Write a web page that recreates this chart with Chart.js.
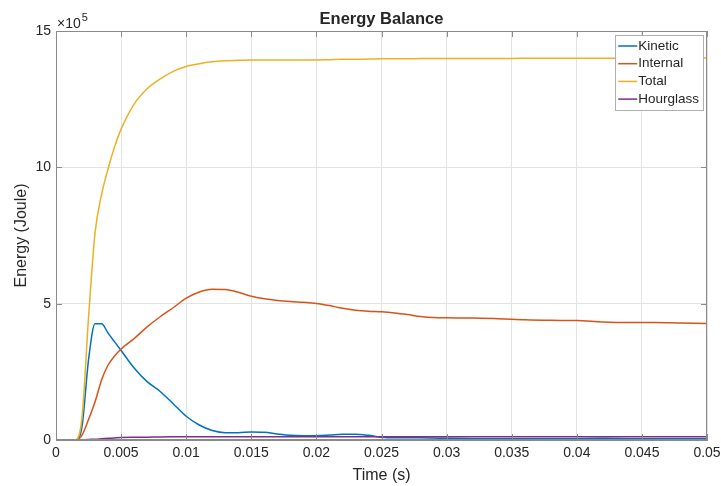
<!DOCTYPE html>
<html>
<head>
<meta charset="utf-8">
<script src="https://cdn.jsdelivr.net/npm/chart.js@4/dist/chart.umd.min.js"></script>
<style>
  html, body { margin: 0; padding: 0; background: #fff; }
  #wrap { width: 721px; height: 486px; }
</style>
</head>
<body>
<div id="wrap"><canvas id="energyChart" width="721" height="486"></canvas></div>
<script>
// Energy histories (Joule) sampled against simulation time (s)
const time = [0, 0.0005, 0.001, 0.0015, 0.002, 0.0025, 0.003, 0.0035, 0.004, 0.0045, 0.005,
  0.006, 0.007, 0.008, 0.009, 0.01, 0.011, 0.012, 0.013, 0.014, 0.015, 0.016, 0.017, 0.018, 0.019, 0.02,
  0.021, 0.022, 0.023, 0.024, 0.025, 0.026, 0.027, 0.028, 0.029, 0.03,
  0.032, 0.034, 0.036, 0.038, 0.04, 0.042, 0.044, 0.046, 0.048, 0.05];

const kinetic = [0, 0, 0, 0, 50000, 295000, 426000, 426000, 392000, 360000, 328000,
  264000, 214000, 178000, 133000, 87000, 55000, 35000, 27000, 27000, 29000, 28000, 22000, 17000, 16000, 16000,
  18000, 21000, 21000, 17000, 10000, 8000, 8000, 8000, 7000, 6000,
  5000, 5000, 5000, 5000, 5000, 6000, 5000, 5000, 5000, 5000];

const internal = [0, 0, 0, 0, 18000, 75000, 140000, 220000, 275000, 308000, 334000,
  372000, 415000, 452000, 485000, 520000, 543000, 553000, 552000, 542000, 527000, 518000, 512000, 508000, 505000, 501000,
  493000, 483000, 476000, 472000, 470000, 466000, 460000, 453000, 449000, 448000,
  447000, 445000, 441000, 439000, 438000, 433000, 431000, 431000, 429000, 427000];

const total = [0, 0, 0, 0, 85000, 450000, 760000, 900000, 995000, 1075000, 1140000,
  1232000, 1288000, 1324000, 1352000, 1370000, 1380000, 1387000, 1391000, 1393000, 1394000, 1394000, 1394000, 1394000, 1394000, 1394000,
  1395000, 1396000, 1396000, 1397000, 1398000, 1398000, 1398000, 1399000, 1399000, 1399000,
  1399000, 1399000, 1400000, 1400000, 1400000, 1400000, 1401000, 1401000, 1401000, 1401000];

const hourglass = [0, 0, 0, 0, 1000, 2000, 3000, 4500, 6000, 7500, 9000,
  10000, 10500, 11000, 11500, 12000, 12000, 12000, 12000, 12000, 12000, 12000, 12000, 12000, 12000, 12000,
  12000, 12000, 12000, 12000, 12000, 12000, 12000, 12000, 12000, 12000,
  12000, 12000, 12000, 12000, 12000, 12000, 12000, 12000, 12000, 12000];

const seriesNames = ['Kinetic', 'Internal', 'Total', 'Hourglass'];
const seriesColors = ['#0072BD', '#D95319', '#EDB120', '#7E2F8E'];
const xTicks = [0, 0.005, 0.01, 0.015, 0.02, 0.025, 0.03, 0.035, 0.04, 0.045, 0.05];
const yTicks = [0, 5e5, 10e5, 15e5];

const FONT = 'Helvetica, Arial, "Liberation Sans", sans-serif';
const TEXT = '#262626';
const AXIS = '#8a8a8a';

const toPoints = ys => time.map((t, i) => ({ x: t, y: ys[i] }));

// Box outline, inward tick marks, exponent label, title and legend
const matlabAxes = {
  id: 'matlabAxes',
  afterDraw(chart) {
    const { ctx, chartArea: a, scales: { x, y } } = chart;
    ctx.save();

    ctx.strokeStyle = AXIS;
    ctx.lineWidth = 1;
    ctx.strokeRect(a.left + 0.5, a.top + 0.5, a.right - a.left - 1, a.bottom - a.top - 1);

    ctx.beginPath();
    xTicks.forEach(v => {
      const px = Math.round(x.getPixelForValue(v)) + 0.5;
      ctx.moveTo(px, a.bottom); ctx.lineTo(px, a.bottom - 6);
      ctx.moveTo(px, a.top); ctx.lineTo(px, a.top + 6);
    });
    yTicks.forEach(v => {
      const py = Math.round(y.getPixelForValue(v)) + 0.5;
      ctx.moveTo(a.left, py); ctx.lineTo(a.left + 6, py);
      ctx.moveTo(a.right, py); ctx.lineTo(a.right - 6, py);
    });
    ctx.stroke();

    // ×10^5 multiplier
    ctx.fillStyle = TEXT;
    ctx.textBaseline = 'alphabetic';
    ctx.textAlign = 'left';
    ctx.font = '14px ' + FONT;
    ctx.fillText('\u00d710', a.left + 1, a.top - 3);
    const w = ctx.measureText('\u00d710').width;
    ctx.font = '11px ' + FONT;
    ctx.fillText('5', a.left + 2 + w, a.top - 10);

    // title
    ctx.font = 'bold 16.5px ' + FONT;
    ctx.textAlign = 'center';
    ctx.fillText('Energy Balance', (a.left + a.right) / 2, 24);

    // legend box
    ctx.font = '13.5px ' + FONT;
    ctx.textAlign = 'left';
    ctx.textBaseline = 'middle';
    const textW = Math.max(...seriesNames.map(n => ctx.measureText(n).width));
    const rowH = 17.7;
    const boxW = 24 + textW + 3;
    const boxH = rowH * seriesNames.length + 4;
    const bx = a.right - 4 - boxW;
    const by = a.top + 4;
    ctx.fillStyle = '#fff';
    ctx.fillRect(bx, by, boxW, boxH);
    ctx.strokeStyle = '#b0b0b0';
    ctx.strokeRect(Math.round(bx) + 0.5, Math.round(by) + 0.5, Math.round(boxW), Math.round(boxH));
    chart.data.datasets.forEach((ds, i) => {
      const cy = by + 11 + i * rowH;
      ctx.strokeStyle = ds.borderColor;
      ctx.lineWidth = 1.5;
      ctx.beginPath();
      ctx.moveTo(bx + 3, cy); ctx.lineTo(bx + 22, cy);
      ctx.stroke();
      ctx.fillStyle = TEXT;
      ctx.fillText(ds.label, bx + 23, cy);
    });
    ctx.restore();
  }
};

new Chart(document.getElementById('energyChart'), {
  type: 'line',
  data: {
    datasets: seriesNames.map((name, i) => ({
      label: name,
      data: toPoints([kinetic, internal, total, hourglass][i]),
      borderColor: seriesColors[i],
      backgroundColor: seriesColors[i],
      borderWidth: 1.5,
      pointRadius: 0,
      cubicInterpolationMode: 'monotone',
      order: seriesNames.length - i
    }))
  },
  options: {
    responsive: false,
    animation: false,
    layout: { padding: { top: 31, right: 14, left: 0, bottom: 0 } },
    plugins: {
      legend: { display: false },
      title: { display: false },
      tooltip: { enabled: false }
    },
    scales: {
      x: {
        type: 'linear',
        min: 0,
        max: 0.05,
        afterBuildTicks: s => { s.ticks = xTicks.map(v => ({ value: v })); },
        afterFit: s => { s.height = 46; s.paddingLeft = 0; s.paddingRight = 0; },
        grid: { color: '#e3e3e3', drawTicks: false },
        border: { color: AXIS },
        ticks: {
          padding: 5,
          color: TEXT,
          font: { family: FONT, size: 14 },
          maxRotation: 0,
          callback: v => String(+v.toFixed(3))
        },
        title: {
          display: true,
          text: 'Time (s)',
          color: TEXT,
          font: { family: FONT, size: 16 },
          padding: { top: 0, bottom: 1 }
        }
      },
      y: {
        min: 0,
        max: 1.5e6,
        afterBuildTicks: s => { s.ticks = yTicks.map(v => ({ value: v })); },
        afterFit: s => { s.width = 56; s.paddingTop = 0; s.paddingBottom = 0; },
        grid: { color: '#e3e3e3', drawTicks: false },
        border: { color: AXIS },
        ticks: {
          padding: 5,
          color: TEXT,
          font: { family: FONT, size: 14 },
          callback: v => String(v / 1e5)
        },
        title: {
          display: true,
          text: 'Energy (Joule)',
          color: TEXT,
          font: { family: FONT, size: 16 },
          padding: { top: 12, bottom: 0 }
        }
      }
    }
  },
  plugins: [matlabAxes]
});
</script>
</body>
</html>
